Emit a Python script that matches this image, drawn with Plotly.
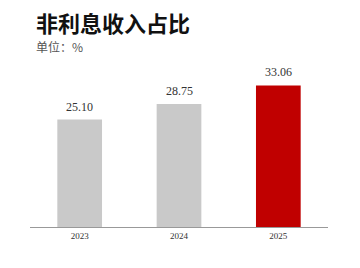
import plotly.graph_objects as go

categories = ["2023", "2024", "2025"]
values = [25.10, 28.75, 33.06]
colors = ["#C9C9C9", "#C9C9C9", "#C00000"]
title = "非利息收入占比"
subtitle = "单位：%"

fig = go.Figure()
fig.add_trace(go.Bar(x=categories, y=values, marker=dict(color=colors, line=dict(width=0)),
                     hoverinfo="skip"))

for i, v in enumerate(values):
    fig.add_annotation(x=i, y=v, text=f"{v:.2f}", showarrow=False, yanchor="bottom",
                       yshift=4, font=dict(family="Liberation Serif", size=12, color="#333333"))

fig.add_annotation(xref="paper", yref="paper", x=0.015, y=1.0, text="<b>" + title + "</b>",
                   xanchor="left", yanchor="bottom", yshift=20, showarrow=False,
                   font=dict(family="Noto Sans CJK SC", size=22, color="#111111"))
fig.add_annotation(xref="paper", yref="paper", x=0.015, y=1.0, text=subtitle,
                   xanchor="left", yanchor="bottom", yshift=3, showarrow=False,
                   font=dict(family="Noto Sans CJK SC", size=12, color="#555555"))

fig.update_layout(
    width=360, height=268,
    margin=dict(l=30, r=32, t=60, b=41),
    paper_bgcolor="white", plot_bgcolor="white",
    bargap=0.55, showlegend=False,
    xaxis=dict(type="category", range=[-0.5, 2.5], showline=True, linecolor="#999999",
               linewidth=1, ticks="",
               tickfont=dict(family="Liberation Serif", size=9, color="#333333"),
               showgrid=False, fixedrange=True),
    yaxis=dict(range=[0, 39], visible=False, showgrid=False, fixedrange=True),
)
fig.write_html("out.html")
